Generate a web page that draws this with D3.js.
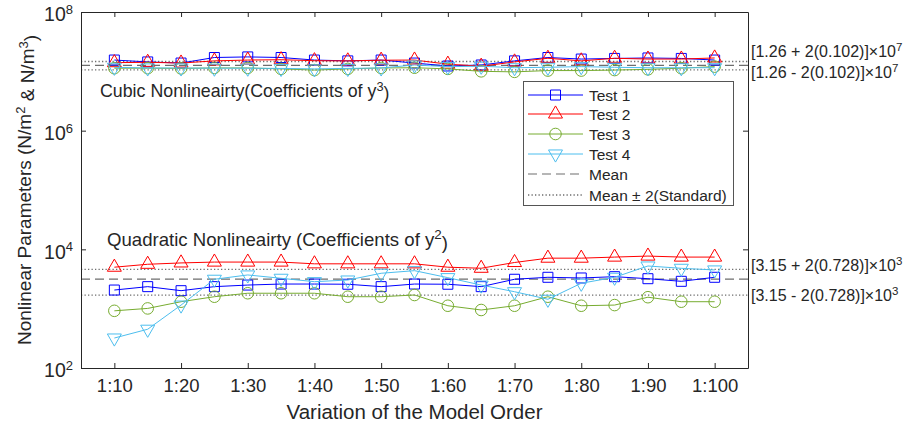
<!DOCTYPE html>
<html><head><meta charset="utf-8">
<script src="https://cdn.jsdelivr.net/npm/d3@7"></script>
<style>
body{margin:0;background:#fff;}
text{font-family:"Liberation Sans",Arial,Helvetica,sans-serif;fill:#262626;}
</style></head>
<body><svg id="c" width="909" height="432"></svg>
<script>
// ---------- data ----------
const orders = [10,15,20,25,30,35,40,45,50,55,60,65,70,75,80,85,90,95,100];
const xTickValues = [10,20,30,40,50,60,70,80,90,100];
const xTickLabels = ["1:10","1:20","1:30","1:40","1:50","1:60","1:70","1:80","1:90","1:100"];
const yTickExponents = [2,4,6,8];
const seriesNames = ["Test 1","Test 2","Test 3","Test 4"];

// cubic coefficients (x1e7)
const cubicTest1 = [1.55,1.44,1.38,1.71,1.75,1.71,1.55,1.50,1.55,1.38,1.23,1.28,1.50,1.71,1.61,1.65,1.68,1.65,1.55];
const cubicTest2 = [1.40,1.42,1.38,1.50,1.55,1.57,1.51,1.50,1.54,1.55,1.32,1.22,1.44,1.66,1.50,1.66,1.61,1.61,1.68];
const cubicTest3 = [1.13,1.13,1.12,1.14,1.14,1.10,1.05,1.10,1.14,1.15,1.10,1.00,0.98,1.03,1.03,1.05,1.08,1.13,1.20];
const cubicTest4 = [1.17,1.14,1.14,1.13,1.13,1.12,1.10,1.12,1.14,1.28,1.20,1.22,1.15,1.17,1.20,1.17,1.15,1.15,1.15];
// quadratic coefficients
const quadTest1 = [2060,2350,2010,2350,2500,2600,2600,2580,2350,2600,2580,2350,3130,3380,3290,3460,3200,2890,3380];
const quadTest2 = [5000,5600,5900,6100,6100,6100,5700,5700,5700,5700,5000,4800,6000,7100,7100,7400,7700,7400,7400];
const quadTest3 = [920,1010,1310,1590,1820,1820,1820,1590,1590,1700,1120,950,1120,1590,1120,1150,1560,1310,1310];
const quadTest4 = [320,450,1150,3130,3700,3250,2850,3040,3950,4370,3330,2500,1930,1440,2680,3380,5240,4790,4490];

const cubicMean = 1.26e7, cubicStd = 0.102e7;
const quadMean = 3.15e3, quadStd = 0.728e3;

// ---------- layout ----------
const L=81, R=748, T=12, B=368;
const svg = d3.select("#c");
const x = d3.scaleLinear().domain([5,105]).range([L,R]);
const y = d3.scaleLog().domain([1e2,1e8]).range([B,T]);

const colors = ["#0000ff","#ff0000","#77ac30","#4dbeee"];
const symbols = [d3.symbolSquare, d3.symbolTriangle, d3.symbolCircle, d3.symbolTriangle];
const symSizes = [100, 85, 105, 85];
const symRot = [0,0,0,180];

// reference lines
function refLines(mean, std){
  const g = svg.append("g");
  g.append("line").attr("x1",L).attr("x2",R).attr("y1",y(mean)).attr("y2",y(mean))
    .attr("stroke","#6e6e6e").attr("stroke-width",1.2).attr("stroke-dasharray","9,5");
  [mean+2*std, mean-2*std].forEach(v=>{
    g.append("line").attr("x1",L).attr("x2",R).attr("y1",y(v)).attr("y2",y(v))
      .attr("stroke","#6e6e6e").attr("stroke-width",1.3).attr("stroke-dasharray","1.3,2.2");
  });
}
refLines(cubicMean, cubicStd);
refLines(quadMean, quadStd);

const cubic = [cubicTest1,cubicTest2,cubicTest3,cubicTest4].map(a=>a.map(v=>v*1e7));
const quad = [quadTest1,quadTest2,quadTest3,quadTest4];

const line = d3.line().x((d,i)=>x(orders[i])).y(d=>y(d));
function drawSeries(k, vals){
  const g = svg.append("g");
  g.append("path").datum(vals).attr("d",line).attr("fill","none")
    .attr("stroke",colors[k]).attr("stroke-width",1);
  g.selectAll("path.m").data(vals).enter().append("path").attr("class","m")
    .attr("d", d3.symbol().type(symbols[k]).size(symSizes[k]))
    .attr("transform",(d,i)=>`translate(${x(orders[i])},${y(d)}) rotate(${symRot[k]})`)
    .attr("fill","none").attr("stroke",colors[k]).attr("stroke-width",1);
}
for(let k=0;k<4;k++){ drawSeries(k, quad[k]); }
for(let k=0;k<4;k++){ drawSeries(k, cubic[k]); }

// ---------- axes ----------
const axCol = "#262626";
const xb = svg.append("g").attr("transform",`translate(0,${B})`)
  .call(d3.axisBottom(x).tickValues(xTickValues).tickSizeInner(-5).tickSizeOuter(0)
    .tickPadding(11).tickFormat((d,i)=>xTickLabels[i]));
const xt = svg.append("g").attr("transform",`translate(0,${T})`)
  .call(d3.axisTop(x).tickValues(xTickValues).tickSizeInner(-5).tickSizeOuter(0).tickFormat(""));
const yl = svg.append("g").attr("transform",`translate(${L},0)`)
  .call(d3.axisLeft(y).tickValues(yTickExponents.map(e=>Math.pow(10,e))).tickSizeInner(-5).tickSizeOuter(0)
    .tickPadding(8).tickFormat(""));
const yr = svg.append("g").attr("transform",`translate(${R},0)`)
  .call(d3.axisRight(y).tickValues(yTickExponents.map(e=>Math.pow(10,e))).tickSizeInner(-5).tickSizeOuter(0).tickFormat(""));
[xb,xt,yl,yr].forEach(g=>{
  g.select(".domain").attr("stroke",axCol).attr("stroke-width",1);
  g.selectAll(".tick line").attr("stroke",axCol);
});
xb.selectAll(".tick text").attr("font-size",18.5).attr("font-family","Liberation Sans, Arial, sans-serif").attr("fill",axCol);

// y tick labels with superscripts
yl.selectAll(".tick").each(function(d,i){
  const t = d3.select(this).append("text").attr("x",-8).attr("y",0).attr("dy","0.45em")
    .attr("text-anchor","end").attr("font-size",19.5).attr("fill",axCol);
  t.append("tspan").text("10");
  t.append("tspan").attr("dy","-0.55em").attr("font-size",13).text(String(yTickExponents[i]));
});

// axis titles
svg.append("text").attr("x",(L+R)/2).attr("y",419).attr("text-anchor","middle")
  .attr("font-size",20.5).text("Variation of the Model Order");
const yt = svg.append("text").attr("transform",`translate(31,${(T+B)/2}) rotate(-90)`)
  .attr("text-anchor","middle").attr("font-size",19);
yt.append("tspan").text("Nonlinear Parameters (N/m");
yt.append("tspan").attr("dy","-0.5em").attr("font-size",13).text("2");
yt.append("tspan").attr("dy","0.5em").text(" & N/m");
yt.append("tspan").attr("dy","-0.5em").attr("font-size",13).text("3");
yt.append("tspan").attr("dy","0.5em").text(")");

// region labels
function supText(xp, yp, main, sup, tail, fs){
  const t = svg.append("text").attr("x",xp).attr("y",yp).attr("font-size",fs);
  t.append("tspan").text(main);
  t.append("tspan").attr("dy","-0.5em").attr("font-size",fs*0.72).text(sup);
  if(tail) t.append("tspan").attr("dy","0.5em").text(tail);
  return t;
}
supText(100,97,"Cubic Nonlineairty(Coefficients of y","3",")",17.8);
supText(107,246,"Quadratic Nonlineairty (Coefficients of y","2",")",18.6);

// annotations at right
const cubicLbl = ["[1.26 + 2(0.102)]×10","[1.26 - 2(0.102)]×10"];
const quadLbl = ["[3.15 + 2(0.728)]×10","[3.15 - 2(0.728)]×10"];
supText(751,57,cubicLbl[0],"7",null,16);
supText(751,78,cubicLbl[1],"7",null,16);
supText(751,271,quadLbl[0],"3",null,16);
supText(751,301,quadLbl[1],"3",null,16);

// ---------- legend ----------
const lg = svg.append("g");
lg.append("rect").attr("x",523.5).attr("y",81.5).attr("width",210).attr("height",124)
  .attr("fill","#fff").attr("stroke","#555").attr("stroke-width",1);
const legRows = [95,114,134,154,174,195];
seriesNames.forEach((n,k)=>{
  const yy = legRows[k];
  lg.append("line").attr("x1",528).attr("x2",583).attr("y1",yy).attr("y2",yy).attr("stroke",colors[k]);
  lg.append("path").attr("d",d3.symbol().type(symbols[k]).size(symSizes[k])())
    .attr("transform",`translate(555.5,${yy}) rotate(${symRot[k]})`)
    .attr("fill","none").attr("stroke",colors[k]);
  lg.append("text").attr("x",589).attr("y",yy).attr("dy","0.36em").attr("font-size",15.5).text(n);
});
lg.append("line").attr("x1",528).attr("x2",583).attr("y1",legRows[4]).attr("y2",legRows[4])
  .attr("stroke","#6e6e6e").attr("stroke-width",1.2).attr("stroke-dasharray","9,5");
lg.append("text").attr("x",589).attr("y",legRows[4]).attr("dy","0.36em").attr("font-size",15.5).text("Mean");
lg.append("line").attr("x1",528).attr("x2",583).attr("y1",legRows[5]).attr("y2",legRows[5])
  .attr("stroke","#6e6e6e").attr("stroke-width",1.3).attr("stroke-dasharray","1.3,2.2");
lg.append("text").attr("x",589).attr("y",legRows[5]).attr("dy","0.36em").attr("font-size",15.5).text("Mean ± 2(Standard)");
</script></body></html>
